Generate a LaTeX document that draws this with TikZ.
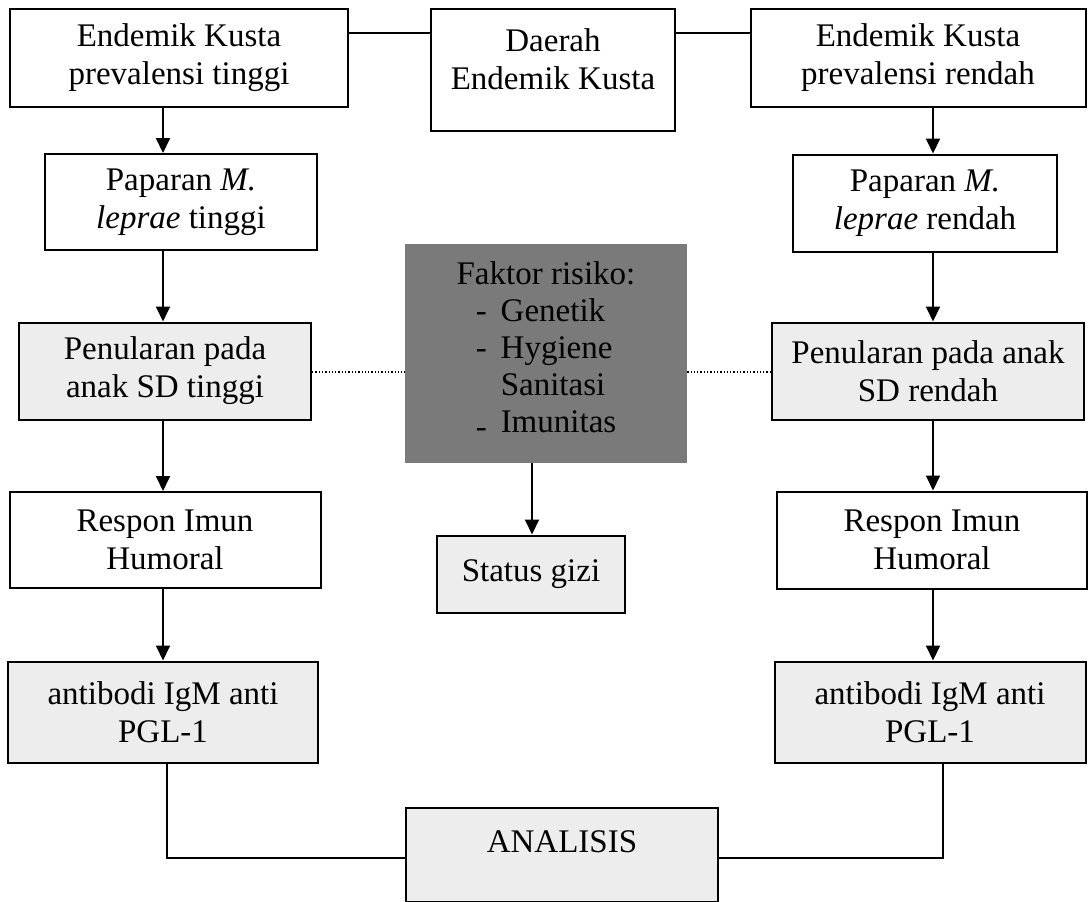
\documentclass[tikz,border=0pt]{standalone}
\usepackage{fontspec}
\setmainfont{Liberation Serif}
\usepackage{tikz}
\usetikzlibrary{arrows.meta}

\definecolor{boxgray}{HTML}{EDEDED}
\definecolor{riskgray}{HTML}{7A7A7A}

\tikzset{
  box/.style={draw, line width=2pt, align=center, inner sep=0pt,
    font=\fontsize{33}{38}\selectfont},
  shadebox/.style={box, fill=boxgray},
  arr/.style={-{Triangle[length=15pt,width=14pt]}, line width=2pt},
  link/.style={line width=2pt},
  dots/.style={dotted, line width=1.3pt}
}

\begin{document}
\begin{tikzpicture}[x=1pt,y=-1pt]
  \useasboundingbox (0,0) rectangle (1088,902);

  % Nodes
  \node[box, minimum width=338pt, minimum height=98pt] (tl) at (179,58) {Endemik Kusta\\prevalensi tinggi};
  \node[box, minimum width=244pt, minimum height=122pt, text depth=22pt] (dk) at (553,70) {Daerah\\Endemik Kusta};
  \node[box, minimum width=335pt, minimum height=98pt] (tr) at (918,58) {Endemik Kusta\\prevalensi rendah};

  \node[box, minimum width=272pt, minimum height=96pt] (pl) at (181,202) {Paparan \textit{M.}\\\textit{leprae} tinggi};
  \node[box, minimum width=264pt, minimum height=97pt] (pr) at (925,203) {Paparan \textit{M.}\\\textit{leprae} rendah};

  \node[shadebox, minimum width=292pt, minimum height=97pt] (nl) at (165,371) {Penularan pada\\anak SD tinggi};
  \node[fill=riskgray, minimum width=282pt, minimum height=219pt, inner sep=0pt, align=center,
        font=\fontsize{33}{37}\selectfont] (fk) at (546,353)
        {Faktor risiko:\\\begin{tabular}[t]{@{}l@{\hspace{14pt}}l@{}}-&Genetik\\-&Hygiene\\&Sanitasi\\\raisebox{-5pt}{-}&Imunitas\end{tabular}};
  \node[shadebox, minimum width=312pt, minimum height=97pt] (nr) at (928,371) {Penularan pada anak\\SD rendah};

  \node[box, minimum width=311pt, minimum height=96pt] (rl) at (165,540) {Respon Imun\\Humoral};
  \node[shadebox, minimum width=188pt, minimum height=77pt] (sg) at (531,574) {Status gizi};
  \node[box, minimum width=310pt, minimum height=97pt] (rr) at (932,540) {Respon Imun\\Humoral};

  \node[shadebox, minimum width=310pt, minimum height=101pt] (al) at (163,712) {antibodi IgM anti\\PGL-1};
  \node[shadebox, minimum width=311pt, minimum height=101pt] (ar) at (930,712) {antibodi IgM anti\\PGL-1};

  \node[shadebox, minimum width=312pt, minimum height=94pt, text depth=26pt] (an) at (562,855) {ANALISIS};

  % Helper coordinates
  \coordinate (cl) at (163,0);
  \coordinate (cr) at (933,0);
  \coordinate (cm) at (532,0);
  \coordinate (top) at (0,33);
  \coordinate (mid) at (0,372);
  \coordinate (bl) at (167,858);
  \coordinate (br) at (943,858);

  % Edges
  \draw[link] (tl.east |- top) -- (dk.west |- top);
  \draw[link] (dk.east |- top) -- (tr.west |- top);

  \draw[arr] (tl.south -| cl) -- (pl.north -| cl);
  \draw[arr] (pl.south -| cl) -- (nl.north -| cl);
  \draw[arr] (nl.south -| cl) -- (rl.north -| cl);
  \draw[arr] (rl.south -| cl) -- (al.north -| cl);

  \draw[arr] (tr.south -| cr) -- (pr.north -| cr);
  \draw[arr] (pr.south -| cr) -- (nr.north -| cr);
  \draw[arr] (nr.south -| cr) -- (rr.north -| cr);
  \draw[arr] (rr.south -| cr) -- (ar.north -| cr);

  \draw[dots] (nl.east |- mid) -- (fk.west |- mid);
  \draw[dots] (fk.east |- mid) -- (nr.west |- mid);
  \draw[arr] (fk.south -| cm) -- (sg.north -| cm);

  \draw[link] (al.south -| bl) -- (bl) -- (an.west |- bl);
  \draw[link] (ar.south -| br) -- (br) -- (an.east |- br);
\end{tikzpicture}
\end{document}
